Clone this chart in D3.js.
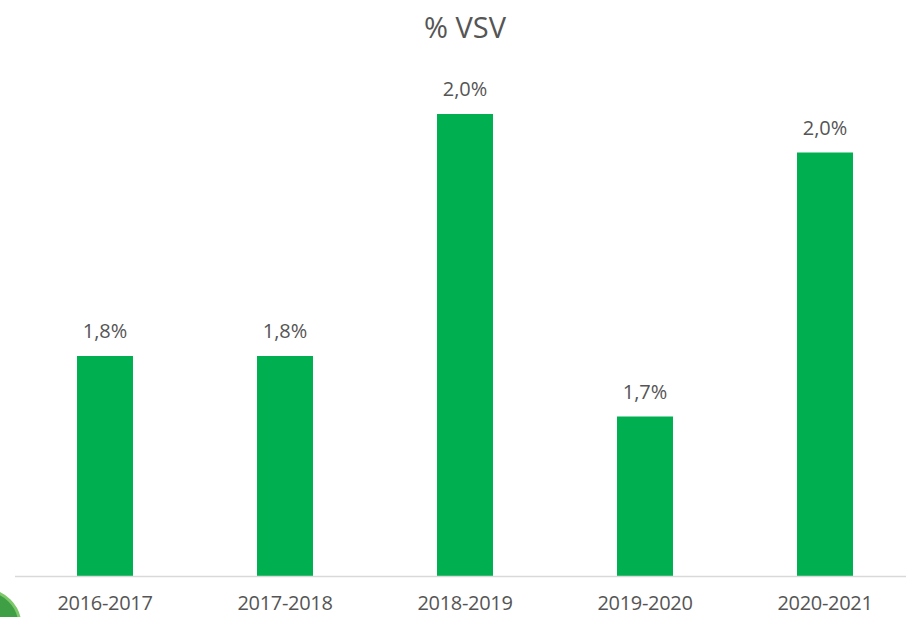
<!DOCTYPE html>
<html>
<head>
<meta charset="utf-8">
<script src="https://cdn.jsdelivr.net/npm/d3@7"></script>
<style>
  body { margin: 0; background: #fff; }
  text { font-family: "Open Sans", sans-serif; fill: #555555; }
</style>
</head>
<body>
<div id="chart"></div>
<script>
// seasons and their share (fraction)
var seasons = ["2016-2017", "2017-2018", "2018-2019", "2019-2020", "2020-2021"];
var vsv = [0.0180, 0.0180, 0.0202, 0.01745, 0.01985];
var yDomain = [0.016, 0.021];

var width = 906, height = 617;

var svg = d3.select("#chart")
  .append("svg")
  .attr("width", width)
  .attr("height", height);

// decoration in the lower left corner
svg.append("circle")
  .attr("cx", -16)
  .attr("cy", 626)
  .attr("r", 36)
  .style("fill", "#3f9f45")
  .style("stroke", "#7cc86a")
  .style("stroke-width", 3);

var x = d3.scaleBand()
  .domain(seasons)
  .range([15, 915])
  .paddingInner(0.689)
  .paddingOuter(0.3445);

var y = d3.scaleLinear()
  .domain(yDomain)
  .range([576, 26]);

var nl = d3.formatLocale({decimal: ",", thousands: ".", grouping: [3], currency: ["", " €"]});
var fmt = nl.format(".1%");

// title
svg.append("text")
  .attr("x", 465)
  .attr("y", 38)
  .attr("text-anchor", "middle")
  .style("font-size", "29px")
  .text("% VSV");

// bars
svg.append("g").selectAll("rect")
  .data(vsv)
  .enter().append("rect")
  .attr("x", function(d, i) { return x(seasons[i]); })
  .attr("y", function(d) { return y(d); })
  .attr("width", x.bandwidth())
  .attr("height", function(d) { return y(yDomain[0]) - y(d); })
  .style("fill", "#00b050");

// value labels
svg.append("g").selectAll("text")
  .data(vsv)
  .enter().append("text")
  .attr("x", function(d, i) { return x(seasons[i]) + x.bandwidth() / 2; })
  .attr("y", function(d) { return y(d) - 18; })
  .attr("text-anchor", "middle")
  .style("font-size", "20px")
  .text(function(d) { return fmt(d); });

// category axis
var xAxis = svg.append("g")
  .attr("transform", "translate(0," + y(yDomain[0]) + ")")
  .call(d3.axisBottom(x).tickSize(0).tickPadding(0));

xAxis.select(".domain")
  .attr("d", "M15,0.5H906")
  .style("stroke", "#d9d9d9")
  .style("stroke-width", 1.5);

xAxis.selectAll("text")
  .attr("y", 34)
  .attr("dy", null)
  .style("font-size", "20px")
  .style("letter-spacing", "-0.3px")
  .style("font-family", "'Open Sans', sans-serif")
  .style("fill", "#555555");
</script>
</body>
</html>
